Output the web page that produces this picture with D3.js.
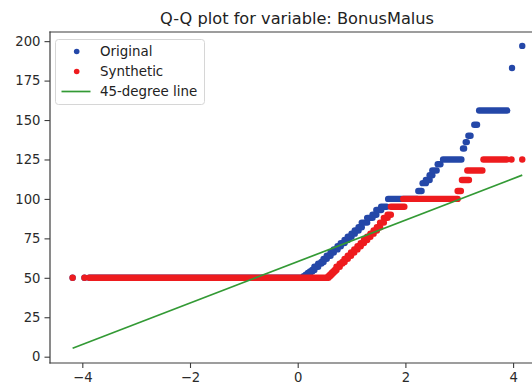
<!DOCTYPE html>
<html>
<head>
<meta charset="utf-8">
<script src="https://cdn.jsdelivr.net/npm/d3@7"></script>
<style>
  body { margin: 0; background: #fff; }
  text { font-family: "DejaVu Sans", sans-serif; }
</style>
</head>
<body>
<svg id="chart" width="532" height="387"></svg>
<script>
// quantile steps: value, theoretical quantile from / to
const origValues = [50, 50, 50, 51, 52, 53, 54, 55, 57, 59, 60, 62, 64, 66, 68, 70, 72, 74, 76, 78, 80, 82, 85, 88, 90, 93, 95, 100, 105, 110, 112, 115, 118, 122, 125, 132, 136, 140, 147, 156, 183, 197]
const origFrom   = [-4.18, -3.96, -3.87, 0.11, 0.15, 0.19, 0.23, 0.27, 0.31, 0.38, 0.44, 0.48, 0.54, 0.61, 0.67, 0.74, 0.80, 0.87, 0.93, 1.00, 1.06, 1.13, 1.19, 1.29, 1.39, 1.46, 1.55, 1.68, 2.24, 2.32, 2.38, 2.45, 2.50, 2.60, 2.70, 3.07, 3.12, 3.17, 3.28, 3.37, 3.98, 4.17]
const origTo     = [-4.18, -3.96, 0.10, 0.15, 0.19, 0.23, 0.27, 0.31, 0.38, 0.44, 0.48, 0.54, 0.61, 0.67, 0.74, 0.80, 0.87, 0.93, 1.00, 1.06, 1.13, 1.19, 1.29, 1.39, 1.46, 1.55, 1.65, 2.22, 2.30, 2.38, 2.45, 2.50, 2.58, 2.65, 3.04, 3.09, 3.14, 3.21, 3.33, 3.89, 3.98, 4.17]

const synthValues = [50, 50, 50, 51, 52, 53, 54, 55, 57, 59, 60, 62, 64, 66, 68, 70, 72, 74, 76, 78, 80, 82, 85, 88, 90, 95, 100, 105, 112, 118, 125, 125, 125]
const synthFrom   = [-4.18, -3.96, -3.87, 0.57, 0.60, 0.63, 0.66, 0.69, 0.72, 0.78, 0.83, 0.87, 0.93, 0.99, 1.05, 1.11, 1.17, 1.23, 1.29, 1.35, 1.41, 1.47, 1.53, 1.60, 1.67, 1.73, 1.96, 2.97, 3.05, 3.15, 3.45, 3.97, 4.17]
const synthTo     = [-4.18, -3.96, 0.57, 0.60, 0.63, 0.66, 0.69, 0.72, 0.78, 0.83, 0.87, 0.93, 0.99, 1.05, 1.11, 1.17, 1.23, 1.29, 1.35, 1.41, 1.47, 1.53, 1.60, 1.67, 1.73, 1.98, 2.97, 3.03, 3.18, 3.43, 3.88, 3.97, 4.17]

const lineX = [-4.18, 4.17]
const lineY = [5.3, 115.1]

const xTicks = [-4, -2, 0, 2, 4]
const yTicks = [0, 25, 50, 75, 100, 125, 150, 175, 200]

const svg = d3.select('#chart')

const x = d3.scaleLinear().domain([-4.6, 4.6]).range([50, 545.4])
const y = d3.scaleLinear().domain([-4, 205.8]).range([363, 32])

const blue = '#2447a8'
const red = '#ee1b1e'
const green = '#339a35'
const dot = 6.4

function steps(values, from, to, color) {
  svg.append('g')
    .selectAll('line')
    .data(values)
    .enter().append('line')
    .attr('x1', (d, i) => x(from[i]))
    .attr('x2', (d, i) => x(to[i]))
    .attr('y1', d => y(d))
    .attr('y2', d => y(d))
    .attr('stroke', color)
    .attr('stroke-width', dot)
    .attr('stroke-linecap', 'round')
}

steps(origValues, origFrom, origTo, blue)
steps(synthValues, synthFrom, synthTo, red)

svg.append('line')
  .attr('x1', x(lineX[0])).attr('y1', y(lineY[0]))
  .attr('x2', x(lineX[1])).attr('y2', y(lineY[1]))
  .attr('stroke', green)
  .attr('stroke-width', 1.7)

// axes
const xAxis = svg.append('g')
  .attr('transform', 'translate(0,363)')
  .call(d3.axisBottom(x).tickValues(xTicks).tickSize(5).tickPadding(5).tickFormat(d3.format('d')))
const yAxis = svg.append('g')
  .attr('transform', 'translate(50,0)')
  .call(d3.axisLeft(y).tickValues(yTicks).tickSize(5.5).tickPadding(4))

;[xAxis, yAxis].forEach(a => {
  a.select('.domain').remove()
  a.selectAll('line').attr('stroke', '#3c3c3c').attr('stroke-width', 1.1)
  a.selectAll('text')
    .attr('fill', '#2a2a2a')
    .style('font-size', '13.2px')
    .style('font-family', '"DejaVu Sans", sans-serif')
})
xAxis.selectAll('text').text(d => d < 0 ? '\u2212' + Math.abs(d) : d)

// spines
const spines = [[50, 32, 50, 363], [50, 363, 545.4, 363], [50, 32, 545.4, 32], [545.4, 32, 545.4, 363]]
svg.append('g')
  .selectAll('line')
  .data(spines)
  .enter().append('line')
  .attr('x1', d => d[0]).attr('y1', d => d[1])
  .attr('x2', d => d[2]).attr('y2', d => d[3])
  .attr('stroke', '#3c3c3c')
  .attr('stroke-width', 1.2)
  .attr('stroke-linecap', 'square')

svg.append('text')
  .attr('x', 297)
  .attr('y', 24)
  .attr('text-anchor', 'middle')
  .attr('fill', '#222')
  .style('font-size', '16.2px')
  .text('Q-Q plot for variable: BonusMalus')

// legend
const legend = svg.append('g')
legend.append('rect')
  .attr('x', 55.5).attr('y', 39.5)
  .attr('width', 149).attr('height', 65)
  .attr('rx', 3)
  .attr('fill', 'rgba(255,255,255,0.8)')
  .attr('stroke', '#d6d6d6')

const legendNames = ['Original', 'Synthetic', '45-degree line']
const legendColors = [blue, red, green]
legendNames.forEach((name, i) => {
  const cy = 51.5 + i * 20
  if (i < 2) {
    legend.append('circle').attr('cx', 76.7).attr('cy', cy).attr('r', 2.8).attr('fill', legendColors[i])
  } else {
    legend.append('line').attr('x1', 61.5).attr('x2', 90.5).attr('y1', cy).attr('y2', cy)
      .attr('stroke', green).attr('stroke-width', 1.7)
  }
  legend.append('text')
    .attr('x', 100).attr('y', cy + 4.8)
    .attr('fill', '#222')
    .style('font-size', '13.4px')
    .text(name)
})
</script>
</body>
</html>
